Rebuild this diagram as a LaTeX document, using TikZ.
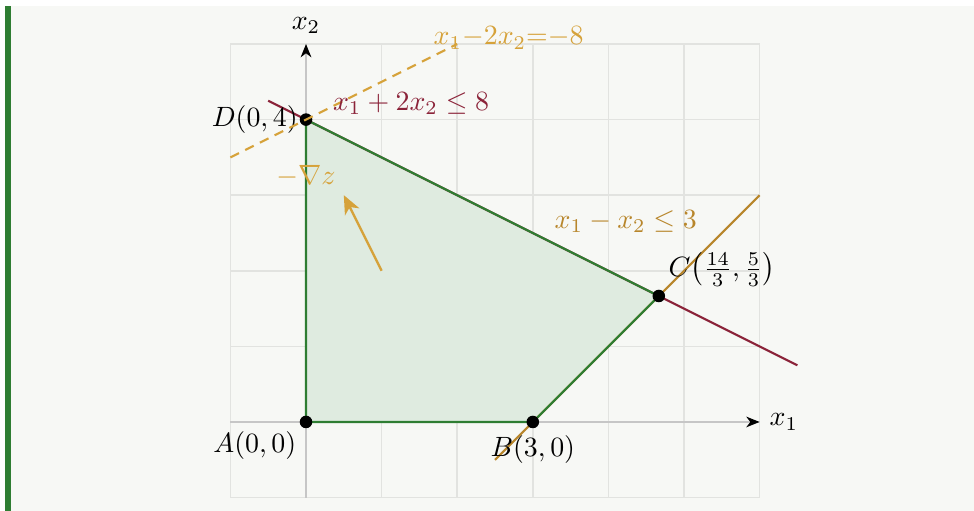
\documentclass[tikz,border=0pt]{standalone}
\usepackage{amsmath}
\usetikzlibrary{arrows.meta}
\definecolor{paper}{HTML}{F7F8F5}
\definecolor{gridgray}{HTML}{E2E3E0}
\definecolor{feasgreen}{HTML}{2E7D32}
\definecolor{feasfill}{HTML}{DFEBE0}
\definecolor{conred}{HTML}{8B2339}
\definecolor{conbrown}{HTML}{B8862B}
\definecolor{objgold}{HTML}{D6A23A}
\begin{document}
\begin{tikzpicture}[
    every node/.style={scale=1.05},
    gridline/.style={draw=gridgray, line width=0.6pt},
    axis/.style={draw=gray!45, line width=0.6pt, -{Stealth[length=5pt, width=4pt, inset=1.5pt, black]}},
    constraint/.style={line width=0.8pt},
    edge/.style={draw=feasgreen, line width=0.8pt},
    vertex/.style={circle, fill=black, inner sep=0pt, minimum size=4.5pt},
    objline/.style={draw=objgold, line width=0.8pt, dash pattern=on 3.6pt off 2.6pt},
    gradarrow/.style={draw=objgold, line width=0.9pt, -{Stealth[length=7pt, width=6pt, inset=2pt]}}
]
% fond
\useasboundingbox (-4.048,-1.177) rectangle (8.836,5.582);
\fill[white] (-4.048,-1.177) rectangle (8.836,5.582);
\fill[paper] (-3.90,-1.177) rectangle (8.836,5.503);
\fill[feasgreen] (-3.98,-1.177) rectangle (-3.90,5.503);
\draw[gridline] (-1,-1) grid (6,5);

% sommets
\coordinate (A) at (0,0);
\coordinate (B) at (3,0);
\coordinate (C) at (14/3,5/3);
\coordinate (D) at (0,4);

% extremites des droites
\coordinate (r1) at (-0.5,4.25);
\coordinate (r2) at (6.5,0.75);
\coordinate (b1) at (2.5,-0.5);
\coordinate (b2) at (6,3);
\coordinate (g1) at (-1,3.5);
\coordinate (g2) at (2,5);
\coordinate (z0) at (1,2);
\coordinate (z1) at (0.5,3);

% region admissible
\fill[feasfill] (A) -- (B) -- (C) -- (D) -- cycle;

% axes
\coordinate (xs) at (-1,0);
\coordinate (xe) at (6,0);
\coordinate (ys) at (0,-1);
\coordinate (ye) at (0,5);
\draw[axis] (xs) -- (xe) node[right, black] (x1lbl) {$x_1$};
\draw[axis] (ys) -- (ye) node[above=0pt, black] (x2lbl) {$x_2$};

% contraintes
\draw[constraint, conred] (r1) -- (r2);
\draw[constraint, conbrown] (b1) -- (b2);
\draw[edge] (A) -- (B) -- (C) -- (D) -- cycle;

% gradient
\draw[gradarrow] (z0) -- (z1);
\node[objgold] (gradlbl) at (0,3.25) {$-\nabla z$};

% points
\node[vertex, label={[label distance=-2.5pt]below left:$A(0,0)$}] (pA) at (A) {};
\node[vertex, label={[label distance=-1pt]below:$B(3,0)$}] (pB) at (B) {};
\node[vertex, label={[inner sep=1pt, label distance=0.8pt]above right:$C\bigl(\frac{14}{3},\frac{5}{3}\bigr)$}] (pC) at (C) {};
\node[vertex, label={[label distance=-3pt]left:$D(0,4)$}] (pD) at (D) {};

% droite objectif
\draw[objline] (g1) -- (g2);

% etiquettes
\node[conred] (redlbl) at (1.39,4.21) {$x_1 + 2x_2 \leq 8$};
\node[conbrown, inner sep=1pt] (brownlbl) at (4.23,2.65) {$x_1 - x_2 \leq 3$};
\node[objgold] (objlbl) at (2.68,5.08) {$x_1{-}2x_2{=}{-}8$};
\end{tikzpicture}
\end{document}
